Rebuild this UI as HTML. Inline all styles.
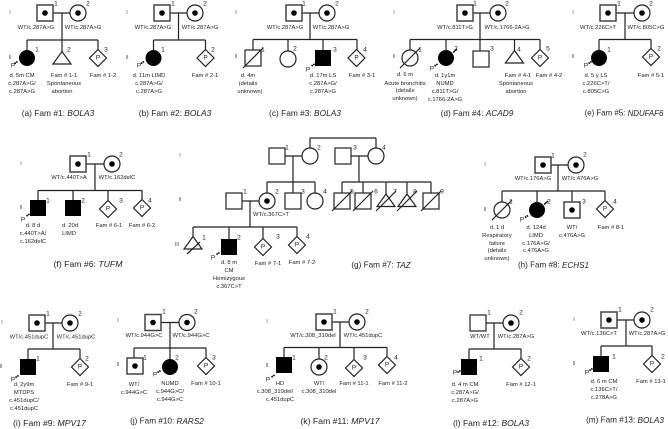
<!DOCTYPE html>
<html><head><meta charset="utf-8"><style>
html,body{margin:0;padding:0;background:#fff}
svg{display:block;filter:blur(.25px)}
text{font-family:"Liberation Sans",sans-serif;dominant-baseline:central;text-anchor:middle;fill:#222}
.t text{font-size:5.8px}
.n text{font-size:6.6px}
.g text{font-size:5.6px;fill:#555}
.c text{font-size:8.4px}
.c tspan{font-style:italic}
.l path{fill:none;stroke:#222;stroke-width:1.200}
.p text{font-size:6.400px}
</style></head><body>
<svg width="668" height="429" viewBox="0 0 668 429" xmlns="http://www.w3.org/2000/svg">
<defs>
<rect id="S" x="-8" y="-8" width="16" height="16" fill="#fff" stroke="#222" stroke-width="1.200"/>
<rect id="S2" x="-8" y="-8" width="16" height="16" fill="#fff" stroke="#444" stroke-width="1.500"/>
<circle id="C" r="8" fill="#fff" stroke="#222" stroke-width="1.200"/>
<g id="SD"><use href="#S2"/><circle r="2.800" fill="#000"/></g>
<g id="CD"><use href="#C"/><circle r="2.800" fill="#000"/></g>
<rect id="FS" x="-8" y="-8" width="16" height="16" fill="#000"/>
<circle id="FC" r="8" fill="#000"/>
<path id="D" d="M0-8.500 8.500 0 0 8.500-8.500 0Z" fill="#fff" stroke="#222" stroke-width="1.200"/>
<path id="T" d="M0-6.500 9 6-9 6Z" fill="#fff" stroke="#222" stroke-width="1.200"/>
<path id="X" d="M-10 10 10-10" stroke="#222" stroke-width="1.200"/>
<path id="A" d="M-12.500 5.500-9 3.200" stroke="#000" stroke-width="1.700" stroke-dasharray="1.500 .6"/>
<path id="B" d="M7-5.500 11-9" stroke="#000" stroke-width="1.300"/>
</defs>
<g class="l">
<path d="M53 13H70M62 13V40M27 40H98M27 40V50M62 40V52M98 40V50"/>
<path d="M170 13H187M178.500 13V40M153.500 40H205.500M153.500 40V50M205.500 40V50"/>
<path d="M302 13H319M310 13V39.500M253 39.500H357M253 39.500V50M288 39.500V51M323 39.500V50M357 39.500V50"/>
<path d="M473 13H490M480 13V51M410 39.500H540M410 39.500V50M446 39.500V50M514.500 39.500V51M540 39.500V50"/>
<path d="M616 13H634M625 13V39.500M599 39.500H651M599 39.500V50M651 39.500V49"/>
<path d="M86 164H104M95 164V190.500M38 190.500H142M38 190.500V200M73 190.500V200M108 190.500V200M142 190.500V199"/>
<path d="M285 156H302M293 156V182M267 182H315M267 182V193M293 182V193M315 182V193M310 138V148M376 138V148M310 138H376"/>
<path d="M351 156H368M359 156V182M342 182H431M342 182V193M363 182V193M386 182V194M407 182V194M431 182V193"/>
<path d="M242 201H259M250 201V227M193 227H297M193 227V237M229 227V239M263 227V238M297 227V236"/>
<path d="M551 165H568M558 165V191M502 191H605M502 191V202M537 191V202M572 191V202M605 191V200"/>
<path d="M45 323H62M53 323V349M28 349H80M28 349V359M80 349V358"/>
<path d="M161 322.500H179M170 322.500V359M134 348H206M134 348V358M206 348V357"/>
<path d="M332 322H349M340 322V347.500M284 347.500H387M284 347.500V357M319 347.500V359M354 347.500V359M387 347.500V356"/>
<path d="M486 323H503M494 323V349M469 349H521M469 349V359M521 349V358"/>
<path d="M617 320H634M626 320V346M601 346H652M601 346V356M652 346V355"/>
</g>

<use href="#SD" x="45" y="13"/><use href="#CD" x="78" y="13"/>
<use href="#FC" x="27" y="58"/><use href="#A" x="27" y="58"/>
<use href="#T" x="62" y="58"/><use href="#D" x="98" y="58"/>

<use href="#SD" x="162" y="13"/><use href="#CD" x="195" y="13"/>
<use href="#FC" x="153.500" y="58"/><use href="#A" x="153.500" y="58"/><use href="#D" x="205.500" y="58"/>

<use href="#SD" x="294" y="13"/><use href="#CD" x="327" y="13"/>
<use href="#S" x="253" y="58"/><use href="#X" x="253" y="58"/>
<use href="#C" x="288" y="59"/><use href="#FS" x="323" y="58"/><use href="#A" x="324" y="60.500"/><use href="#D" x="356.500" y="58"/>

<use href="#SD" x="465" y="13"/><use href="#CD" x="498" y="13"/>
<use href="#C" x="410" y="58"/><use href="#X" x="410" y="58"/>
<use href="#FC" x="446" y="58"/><use href="#A" x="447" y="60.500"/><use href="#B" x="446" y="58"/>
<use href="#S" x="481" y="59"/><use href="#T" x="514.500" y="57"/><use href="#D" x="540" y="58"/>

<use href="#SD" x="608" y="13"/><use href="#CD" x="642" y="13"/>
<use href="#FC" x="599" y="58"/><use href="#A" x="601" y="58"/><use href="#D" x="651" y="57"/>

<use href="#SD" x="78" y="164"/><use href="#CD" x="112" y="164"/>
<use href="#FS" x="38" y="208"/><use href="#A" x="39" y="210.500"/><use href="#FS" x="73" y="208"/>
<use href="#D" x="108" y="209"/><use href="#D" x="142" y="208"/>

<use href="#S" x="277" y="156"/><use href="#C" x="310" y="156"/><use href="#S" x="343" y="156"/><use href="#C" x="376" y="156"/>
<use href="#S" x="234" y="201"/><use href="#CD" x="267" y="201"/><use href="#S" x="293" y="201"/><use href="#C" x="315" y="201"/>
<use href="#S" x="342" y="201"/><use href="#X" x="342" y="201"/>
<use href="#S" x="363" y="201"/><use href="#X" x="363" y="201"/>
<use href="#T" x="386" y="200.500"/><use href="#X" x="386" y="201"/>
<use href="#T" x="407" y="200.500"/><use href="#X" x="407" y="201"/>
<use href="#S" x="431" y="201"/><use href="#X" x="431" y="201"/>
<use href="#T" x="193" y="243"/><path d="M187 254 200 242" stroke="#222" stroke-width="1.200"/>
<use href="#FS" x="229" y="247"/><use href="#A" x="229" y="249"/><use href="#D" x="263" y="247"/><use href="#D" x="297" y="245"/>

<use href="#SD" x="543" y="165"/><use href="#CD" x="576" y="165"/>
<use href="#C" x="502" y="210"/><use href="#X" x="502" y="210"/>
<use href="#FC" x="537" y="210"/><use href="#A" x="537.500" y="212"/><use href="#B" x="537" y="210"/>
<use href="#SD" x="572" y="210"/><use href="#D" x="605" y="209"/>

<use href="#SD" x="37" y="323"/><use href="#CD" x="70" y="323"/>
<use href="#FS" x="28" y="367"/><use href="#A" x="28" y="372"/><use href="#D" x="80" y="367"/>

<use href="#SD" x="153" y="322.500"/><use href="#CD" x="187" y="322.500"/>
<use href="#SD" x="135" y="366"/><use href="#FC" x="170" y="367"/><use href="#A" x="170" y="367"/><use href="#D" x="206" y="366"/>

<use href="#SD" x="324" y="322"/><use href="#CD" x="357" y="322"/>
<use href="#FS" x="284" y="365"/><use href="#A" x="284" y="371.500"/><use href="#CD" x="319" y="367"/>
<use href="#D" x="354" y="368"/><use href="#D" x="387" y="365"/>

<use href="#S" x="478" y="323"/><use href="#CD" x="511" y="323"/>
<use href="#FS" x="469" y="367"/><use href="#A" x="470" y="367"/><use href="#D" x="521" y="367"/>

<use href="#SD" x="609" y="320"/><use href="#CD" x="642" y="320"/>
<use href="#FS" x="601" y="364"/><use href="#A" x="602" y="365"/><use href="#D" x="652" y="364"/>

<g class="p">
<text x="98" y="58">P</text><text x="205.500" y="58">P</text><text x="356.500" y="58">P</text><text x="540" y="58">P</text><text x="651" y="57">P</text>
<text x="108" y="209">P</text><text x="142" y="208">P</text><text x="263" y="247">P</text><text x="297" y="245">P</text><text x="605" y="209">P</text>
<text x="80" y="367">P</text><text x="206" y="366">P</text><text x="354" y="368">P</text><text x="387" y="365">P</text><text x="521" y="367">P</text><text x="652" y="364">P</text>
<text x="13" y="66">P</text><text x="139" y="66">P</text><text x="308" y="70">P</text><text x="432" y="69">P</text><text x="586" y="66">P</text>
<text x="23" y="220">P</text><text x="213" y="258">P</text><text x="522" y="220">P</text>
<text x="13" y="380">P</text><text x="155" y="375">P</text><text x="268" y="380">P</text><text x="455" y="373">P</text><text x="587" y="373">P</text>
</g>

<g class="g">
<text x="10" y="13">I</text><text x="10" y="58">II</text>
<text x="127" y="13">I</text><text x="127" y="58">II</text>
<text x="236" y="13">I</text><text x="236" y="57">II</text>
<text x="394" y="13">I</text><text x="394" y="57">II</text>
<text x="573" y="13">I</text><text x="573" y="57">II</text>
<text x="21" y="164">I</text><text x="21" y="208">II</text>
<text x="180" y="156">I</text><text x="180" y="200">II</text><text x="177" y="245">III</text>
<text x="485" y="165">I</text><text x="485" y="210">II</text>
<text x="2" y="323">I</text><text x="1" y="367">II</text>
<text x="118" y="321">I</text><text x="118" y="365">II</text>
<text x="267" y="322">I</text><text x="267" y="366">II</text>
<text x="574" y="320">I</text><text x="574" y="364">II</text>
</g>

<g class="n">
<text x="56" y="4">1</text><text x="88" y="4">2</text><text x="37" y="50">1</text><text x="69" y="50">2</text><text x="106" y="50">3</text>
<text x="173" y="4">1</text><text x="205" y="4">2</text><text x="163" y="50">1</text><text x="213" y="50">2</text>
<text x="304" y="4">1</text><text x="337" y="4">2</text><text x="263" y="50">1</text><text x="295" y="49">2</text><text x="335" y="50">3</text><text x="365" y="50">4</text>
<text x="475" y="4">1</text><text x="507" y="4">2</text><text x="420" y="50">1</text><text x="456" y="49">2</text><text x="492" y="49">3</text><text x="519" y="50">4</text><text x="548" y="49">5</text>
<text x="619" y="4">1</text><text x="651" y="4">2</text><text x="609" y="50">1</text><text x="659" y="49">2</text>
<text x="89" y="155">1</text><text x="121" y="155">2</text><text x="48" y="201">1</text><text x="83" y="201">2</text><text x="121" y="201">3</text><text x="150" y="201">4</text>
<text x="287" y="148">1</text><text x="319" y="148">2</text><text x="355" y="148">3</text><text x="384" y="148">4</text>
<text x="245" y="192">1</text><text x="277" y="192">2</text><text x="303" y="192">3</text><text x="325" y="192">4</text>
<text x="352" y="192">5</text><text x="376" y="192">6</text><text x="395" y="192">7</text><text x="415" y="192">8</text><text x="442" y="192">9</text>
<text x="204" y="238">1</text><text x="239" y="238">2</text><text x="278" y="237">3</text><text x="308" y="237">4</text>
<text x="553" y="156">1</text><text x="585" y="155">2</text><text x="511" y="202">1</text><text x="549" y="202">2</text><text x="584" y="202">3</text><text x="615" y="202">4</text>
<text x="48" y="314">1</text><text x="80" y="314">2</text><text x="38" y="359">1</text><text x="87" y="359">2</text>
<text x="164" y="312">1</text><text x="196" y="312">2</text><text x="145" y="358">1</text><text x="177" y="358">2</text><text x="214" y="358">3</text>
<text x="335" y="312">1</text><text x="367" y="312">2</text><text x="294" y="358">1</text><text x="326" y="358">2</text><text x="365" y="358">3</text><text x="396" y="358">4</text>
<text x="489" y="313">1</text><text x="521" y="313">2</text><text x="481" y="359">1</text><text x="529" y="359">2</text>
<text x="620" y="310">1</text><text x="652" y="310">2</text><text x="614" y="357">1</text><text x="663" y="357">2</text>
</g>

<g class="t">
<text x="36" y="28">WT/c.287A&gt;G</text><text x="83" y="28">WT/c.287A&gt;G</text>
<text x="22" y="76">d. 5m CM</text><text x="22" y="84">c.287A&gt;G/</text><text x="22" y="92">c.287A&gt;G</text>
<text x="64" y="76">Fam # 1-1</text><text x="64" y="84">Spontaneous</text><text x="62" y="92">abortion</text><text x="103" y="76">Fam # 1-2</text>

<text x="153" y="28">WT/c.287A&gt;G</text><text x="200" y="28">WT/c.287A&gt;G</text>
<text x="149" y="76">d. 11m LIMD</text><text x="149" y="84">c.287A&gt;G/</text><text x="149" y="92">c.287A&gt;G</text><text x="205" y="76">Fam # 2-1</text>

<text x="285" y="28">WT/c.287A&gt;G</text><text x="331" y="28">WT/c.287A&gt;G</text>
<text x="248" y="76">d. 4m</text><text x="248" y="84">(details</text><text x="250" y="92">unknown)</text>
<text x="323" y="76">d. 17m LS</text><text x="323" y="84">c.287A&gt;G/</text><text x="323" y="92">c.287A&gt;G</text><text x="362" y="76">Fam # 3-1</text>

<text x="455" y="28">WT/c.811T&gt;G</text><text x="507" y="28">WT/c.1766-2A&gt;G</text>
<text x="405" y="75">d. 6 m</text><text x="405" y="84">Acute bronchitis</text><text x="405" y="91">(details</text><text x="405" y="99">unknown)</text>
<text x="445" y="76">d. 1y1m</text><text x="445" y="84">NUMD</text><text x="445" y="92">c.811T&gt;G/</text><text x="445" y="100">c.1766-2A&gt;G</text>
<text x="518" y="76">Fam # 4-1</text><text x="516" y="84">Spontaneous</text><text x="516" y="92">abortion</text><text x="549" y="76">Fam # 4-2</text>

<text x="598" y="28">WT/c.226C&gt;T</text><text x="646" y="28">WT/c.805C&gt;G</text>
<text x="596" y="76">d. 5 y LS</text><text x="596" y="84">c.226C&gt;T/</text><text x="596" y="92">c.805C&gt;G</text><text x="651" y="76">Fam # 5-1</text>

<text x="69" y="178">WT/c.440T&gt;A</text><text x="117" y="178">WT/c.162delC</text>
<text x="33" y="226">d. 8 d</text><text x="33" y="234">c.440T&gt;A/</text><text x="33" y="242">c.162delC</text>
<text x="70" y="226">d. 20d</text><text x="69" y="234">LIMD</text><text x="109" y="226">Fam # 6-1</text><text x="142" y="226">Fam # 6-2</text>

<text x="271" y="215">WT/c.367C&gt;T</text>
<text x="229" y="263">d. 8 m</text><text x="229" y="271">CM</text><text x="229" y="279">Hemizygous</text><text x="229" y="287">c.367C&gt;T</text>
<text x="268" y="264">Fam # 7-1</text><text x="302" y="263">Fam # 7-2</text>

<text x="533" y="179">WT/c.176A&gt;G</text><text x="580" y="179">WT/c.476A&gt;G</text>
<text x="497" y="228">d. 1 d</text><text x="497" y="236">Respiratory</text><text x="497" y="244">failure</text><text x="497" y="251">(details</text><text x="497" y="259">unknown)</text>
<text x="536" y="228">d. 124d</text><text x="536" y="236">LIMD</text><text x="536" y="244">c.176A&gt;G/</text><text x="536" y="251">c.476A&gt;G</text>
<text x="572" y="228">WT/</text><text x="572" y="236">c.476A&gt;G</text><text x="611" y="228">Fam # 8-1</text>

<text x="29" y="337.500">WT/c.451dupC</text><text x="76" y="337.500">WT/c.451dupC</text>
<text x="24" y="385">d. 2y9m</text><text x="24" y="393">MTDPS</text><text x="24" y="401">c.451dupC/</text><text x="24" y="409">c.451dupC</text><text x="80" y="385">Fam # 9-1</text>

<text x="144" y="336">WT/c.944G&gt;C</text><text x="191" y="336">WT/c.944G&gt;C</text>
<text x="134" y="385">WT/</text><text x="134" y="393">c.944G&gt;C</text>
<text x="170" y="384">NUMD</text><text x="170" y="392">c.944G&gt;C/</text><text x="170" y="400">c.944G&gt;C</text><text x="206" y="384">Fam # 10-1</text>

<text x="313" y="336">WT/c.308_310del</text><text x="363" y="336">WT/c.451dupC</text>
<text x="280" y="384">HD</text><text x="275" y="392">c.308_310del/</text><text x="280" y="400">c.451dupC</text>
<text x="319" y="384">WT/</text><text x="319" y="392">c.308_310del</text><text x="354" y="384">Fam # 11-1</text><text x="393" y="384">Fam # 11-2</text>

<text x="480" y="337">WT/WT</text><text x="516" y="337">WT/c.287A&gt;G</text>
<text x="465" y="385">d. 4 m CM</text><text x="465" y="393">c.287A&gt;G/</text><text x="465" y="401">c.287A&gt;G</text><text x="521" y="385">Fam # 12-1</text>

<text x="599" y="334">WT/c.136C&gt;T</text><text x="647" y="334">WT/c.287A&gt;G</text>
<text x="604" y="382">d. 6 m CM</text><text x="604" y="390">c.136C&gt;T/</text><text x="604" y="398">c.278A&gt;G</text><text x="651" y="382">Fam # 13-1</text>
</g>

<g class="c">
<text x="58" y="113">(a) Fam #1: <tspan>BOLA3</tspan></text>
<text x="175" y="113">(b) Fam #2: <tspan>BOLA3</tspan></text>
<text x="305" y="113" style="font-size:8.360px">(c) Fam #3: <tspan>BOLA3</tspan></text>
<text x="477" y="113" style="font-size:8.300px">(d) Fam #4: <tspan>ACAD9</tspan></text>
<text x="624" y="113" style="font-size:7.900px">(e) Fam #5: <tspan>NDUFAF6</tspan></text>
<text x="88" y="264" style="font-size:8.680px">(f) Fam #6: <tspan>TUFM</tspan></text>
<text x="381" y="265" style="font-size:8.180px">(g) Fam #7: <tspan>TAZ</tspan></text>
<text x="553.500" y="265" style="font-size:8.100px">(h) Fam #8: <tspan>ECHS1</tspan></text>
<text x="49.500" y="423" style="font-size:8.700px">(i) Fam #9: <tspan>MPV17</tspan></text>
<text x="167" y="421" style="font-size:8.200px">(j) Fam #10: <tspan>RARS2</tspan></text>
<text x="340" y="421" style="font-size:8.670px">(k) Fam #11: <tspan>MPV17</tspan></text>
<text x="491" y="423" style="font-size:8.550px">(l) Fam #12: <tspan>BOLA3</tspan></text>
<text x="625" y="420" style="font-size:8.200px">(m) Fam #13: <tspan>BOLA3</tspan></text>
</g>
</svg>
</body></html>
